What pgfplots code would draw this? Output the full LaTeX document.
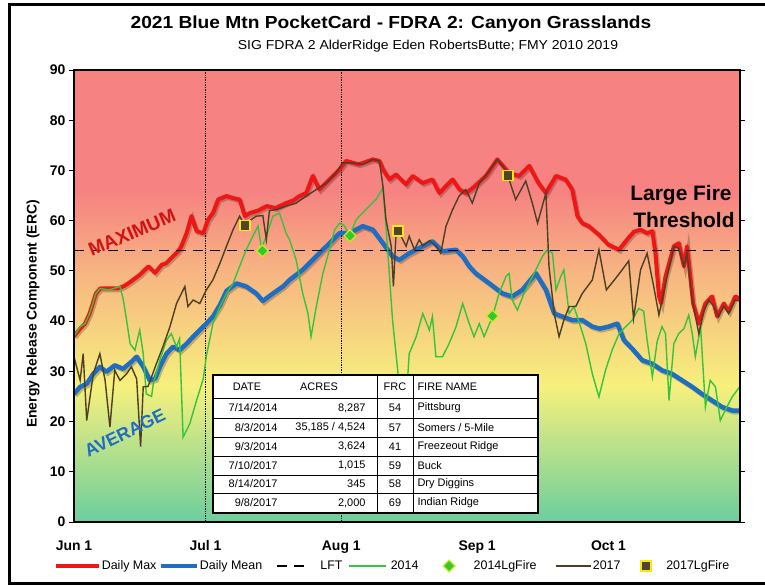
\documentclass[border=0pt]{standalone}
\usepackage{fontspec}
\setmainfont{Liberation Sans}
\usepackage{pgfplots}
\usepackage{pgfplotstable}
\pgfplotsset{compat=1.18}

\definecolor{maxred}{RGB}{240,22,22}
\definecolor{meanblue}{RGB}{30,110,195}
\definecolor{g14}{RGB}{55,195,60}
\definecolor{b17}{RGB}{78,62,36}
\definecolor{bgred}{RGB}{246,130,130}
\definecolor{bgor}{RGB}{247,180,130}
\definecolor{bgyel}{RGB}{246,240,125}
\definecolor{bggrn}{RGB}{108,206,158}
\definecolor{sqfill}{RGB}{80,70,35}
\definecolor{sqedge}{RGB}{245,230,20}
\definecolor{dmfill}{RGB}{50,200,50}
\definecolor{dmedge}{RGB}{205,235,30}

\pgfplotsset{
  limg/.style n args={3}{legend image code/.code={\draw[##1] (#1,0bp) -- (#2,0bp); \path[draw=none,fill=none] (0bp,0bp) -- (#3,0bp);}},
  mimg/.style n args={2}{legend image code/.code={\path[draw=none,fill=none] (0bp,0bp) -- (#2,0bp); \draw[mark repeat=1,mark phase=1,##1] plot coordinates {(#1,0bp)};}},
}

\pgfplotstableread{
x y
0 37
1.4 38.5
2.5 39.5
3.6 41.6
5 45.5
6 46.5
8 46.5
10 46.5
11.5 47
13 47.9
15 49.2
17 50.9
18.5 49.6
20 51.2
21 51.5
22.6 52.9
23.8 53.9
24.5 54.9
25.7 57.5
26.8 60.9
28 57.9
29.5 57.5
30.6 60.2
31.7 61.5
32.9 64.2
34.8 64.9
36.3 64.5
37.8 64.2
39 60.9
40.1 61.5
42 62
44 62.9
46 62.5
48.4 63.5
50 64
51.5 64.9
53 65.5
54.5 68.9
56 66.2
58.3 68.2
60.6 70.2
62.1 71.9
65 71.2
68.2 72.2
69.7 71.9
70.5 70.2
72 68.2
73.5 69.2
75.8 67.2
77.3 68.9
79.6 67.5
81.8 68.2
83.4 65.5
85 67
86.4 68.2
88 66.2
89.4 65.5
91 66.5
94 68.9
96.6 72.2
99.3 69.5
101.6 68.9
103.9 70.9
106 67.5
107.7 65.5
110 68.9
112.2 68.2
113.7 66.2
114.9 60.9
116 59.5
117.5 58.9
119.8 57.2
122 55.2
124.4 54.2
126.2 56.2
127.8 57.8
129.3 58.2
130.8 57.5
132 57.9
132.7 53.5
133.5 45
134 43.5
135 48.9
136.9 54.9
138 55.5
139.2 50.9
139.9 54.9
141.3 43.5
142.6 39.5
144.1 43.5
145.6 44.9
146.8 40.9
148.3 43.5
149.4 41.9
150.9 44.9
152 44.5
}\maxdata

\pgfplotstableread{
x y
0 25.5
1.4 26.9
2.9 27.5
4.4 29.5
5.9 30.9
7.4 29.9
9.3 31.2
11.2 30.5
13.1 31.9
14.3 32.9
15.8 30.9
17.3 28.2
18.5 28.5
19.6 30.9
21.1 33.5
22.6 34.9
24.1 34.2
25.7 35.5
27.2 36.9
28.7 38.2
30.2 39.5
31.7 40.9
33.3 43.2
34.8 46
37.1 47.5
39.3 46.9
41.6 45.5
43.1 44
45.4 45.5
47.7 46.9
49.2 48.2
52.2 50.2
55.3 52.9
58.3 55.5
60.6 57.5
62.9 57.5
65.9 58.9
68.2 58.2
70.5 55.5
72.7 52.9
74.3 52.2
76.5 53.5
79.6 54.9
81.8 55.9
84.1 53.9
87.2 54.2
88.7 52.9
90.2 50.9
91.7 49.5
94.8 47.5
97.8 45.5
100 44.9
102.3 46.2
105.4 49.5
107.7 46.2
109.6 41.5
111.5 40.9
113.7 40.2
116 40.2
118.3 38.9
120 38.5
122 38.9
124 39.5
125.5 36.2
127.4 34.5
129.7 32.2
132 31.5
134.2 30.2
136.5 29.5
138.8 28.2
141.1 26.9
143.3 25.5
145.6 24.2
147.9 22.9
150.2 22.2
152 22.2
}\meandata

\pgfplotstableread{
x y
0 37
1.4 38.9
2.5 39.5
3.6 41.6
5 45.5
6 46.5
8 46.2
10.5 46.9
11.2 44.5
12 40.2
12.8 35.5
13.9 34.2
15 38.2
15.8 33.5
16.5 25.5
17.7 25
18.1 27.5
19.6 32.2
21.1 36.2
22.2 37.5
23.4 34.9
24.1 36.5
24.9 16.9
26.4 19.5
27.9 24
29.5 28.5
30.2 33
31.7 39.5
33.3 42.9
34.8 45.5
36.3 47.5
37.8 50.9
39.3 54.2
40.8 56.9
42 58.9
42.8 54.5
43.9 56.9
45.4 60.9
46.9 61.5
48.4 57.5
49.2 56.2
50.7 52.2
52.2 45.5
53.4 41.5
54.1 36.9
55.3 42.9
56.8 49.5
58.3 54.2
59.5 58.2
60.6 59.5
61.7 59
62.9 56.9
64.4 60.2
66.6 62.2
68.9 64.2
70.5 66.5
71.2 58.9
72.7 40.2
73.9 30
74.8 20
75.8 24
76.5 33.5
78.1 36.9
79.6 41.5
81.1 38.2
81.8 40.9
82.6 32.9
84.1 32.9
85.6 35.5
87.2 38.9
88.7 43.5
90.2 39.5
91.3 36.9
92.5 39.5
93.6 36.9
95.5 40.9
97 45.5
98.6 48.9
99.3 49.5
100 44.2
101.2 42.2
102.7 45.5
105.4 50.2
106.9 52.9
108 54.2
109.2 53.5
110 46.2
111.1 48.9
111.8 50.2
113 41.5
114.1 42.9
115.6 38.9
116.8 35.5
118.3 29.5
119.8 24.9
121.3 30.2
122.8 34.2
124.4 37.5
125.9 38.9
127.4 40.2
128.9 42.5
130 42
130.8 36.2
132 28.9
133.1 36
134.2 38.9
135 37.5
135.8 24.2
136.9 35.5
138 37.5
139.2 38.5
140.3 41.2
141.1 37.5
141.8 32.9
143 38.9
144.1 22.9
145.2 28.2
146.4 26.9
147.5 20.2
149 22.9
150.2 24.9
152 27
}\yrA

\pgfplotstableread{
x y
0 32.9
1.4 28.2
2.1 33.5
2.9 20.2
4.4 29.5
5.9 33.5
7.1 28.2
8.2 18.9
9.3 30.2
10.5 28.2
12 29.5
13.1 30.9
14.3 28.5
15.2 15
15.8 26.9
16.9 27
18.8 31.5
20.3 34.9
21.9 38.9
23.4 43.5
25.3 46.9
26 42.9
27.2 44.2
28.7 43.5
30.2 46.2
31.7 48.2
33.3 51.5
34.8 54.9
36.3 58.2
37.8 60.9
39 59
40.1 60
41.6 60.9
43.1 61
43.9 56.2
44.6 62
46.2 62.2
48.4 62.9
50.7 63.5
53 64.9
55.3 66.2
57.6 67.5
59.8 69.5
61.3 71.5
63.6 71.5
65.9 71.2
68.2 72.2
69.7 71.9
70.5 66.9
71.2 60.2
72.4 54.9
72.9 46.9
73.5 57.5
74 58
75.8 54.9
76.5 56.9
77.7 54.2
78.8 56.2
79.6 55
81.1 56
82.6 55
83.7 53.5
84.9 58.9
86.4 62.2
87.9 64.9
89.4 66.2
90.9 63.5
92.5 67.5
94.4 69.5
96.6 72.2
98.2 70.5
99 69
100.8 64.2
103.1 67.9
104.6 63.5
105.8 59.5
107.7 65.5
108.4 50.9
109.6 41.5
110.7 36.9
111.8 40.2
113 42.9
114.5 42.9
116 45.5
118.3 48.2
119.8 54.2
121.5 46.2
123.6 48.5
125.1 50.2
126.6 52
127.7 40.5
129.3 50.2
130.8 53.5
132.3 46.9
133.5 41.2
135 47.5
136.9 54.9
138 54.5
139.2 50.9
139.9 53.5
141.1 44.2
142.6 37.5
143.8 42.2
144.9 44.2
146 42.9
147.1 40.9
148.3 43
149.4 41.5
150.9 44.2
152 44
}\yrB

\pgfplotstableread{
x y
43 54
63 57
95.5 41
}\fireA

\pgfplotstableread{
x y
39 59
74 58
99 69
}\fireB

\begin{document}
\begin{tikzpicture}[x=1bp,y=1bp]
\useasboundingbox (0,0) rectangle (765,587);
\draw[line width=3bp] (765,582.5) -- (9,582.5) -- (9,3.5) -- (765,3.5);

\node[font=\bfseries\fontsize{17.5}{20}\selectfont, xscale=1.1] at (391,563) {2021 Blue Mtn PocketCard - FDRA 2: Canyon Grasslands};
\node[font=\fontsize{13}{15}\selectfont, xscale=1.08] at (428,541) {SIG FDRA 2  AlderRidge Eden RobertsButte; FMY 2010 2019};
\node[rotate=90, font=\bfseries\fontsize{14}{16}\selectfont] at (33,273) {Energy Release Component (ERC)};

\begin{axis}[
  at={(74bp,65bp)}, anchor=south west,
  scale only axis, width=666bp, height=452bp,
  xmin=0, xmax=152, ymin=0, ymax=90,
  axis on top,
  axis line style={line width=1.8bp},
  ytick={0,10,...,90},
  tick align=outside,
  major tick length=5bp,
  y tick style={line width=0.8bp, black},
  xtick={0,30,61,92,122},
  xticklabels={Jun 1, Jul 1, Aug 1, Sep 1, Oct 1},
  x tick style={draw=none},
  xticklabel style={yshift=-10bp, font=\bfseries\fontsize{14}{16}\selectfont},
  yticklabel style={font=\bfseries\fontsize{14}{16}\selectfont},
  /pgf/number format/assume math mode=true,
  legend style={at={(-0.030,-0.0973)}, anchor=west, draw=none, fill=none,
    inner xsep=0pt, inner ysep=0pt, column sep=0pt,
    font=\fontsize{12.5}{14}\selectfont, nodes={inner sep=0.6bp}},
  legend columns=-1,
]
% background bands
\shade[bottom color=bggrn, top color=bgyel] (axis cs:0,0) rectangle (axis cs:152,27);
\shade[bottom color=bgyel, top color=bgor] (axis cs:0,27) rectangle (axis cs:152,50);
\shade[bottom color=bgor, top color=bgred] (axis cs:0,50) rectangle (axis cs:152,66);
\fill[bgred] (axis cs:0,66) rectangle (axis cs:152,90);
\draw[black, densely dotted, line width=0.7bp] (axis cs:30,0) -- (axis cs:30,90);
\draw[black, densely dotted, line width=0.7bp] (axis cs:61,0) -- (axis cs:61,90);

% shadows
\addplot[black, opacity=0.22, line width=4bp, xshift=1.5bp, yshift=-1.8bp, forget plot] table {\maxdata};
\addplot[black, opacity=0.22, line width=4.5bp, xshift=1.5bp, yshift=-1.8bp, forget plot] table {\meandata};

\addplot[maxred, line width=4bp, line join=round, limg={0bp}{43bp}{44bp}] table {\maxdata};
\addlegendentry{Daily Max}
\addplot[meanblue, line width=4.5bp, line join=round, limg={4bp}{40bp}{40bp}] table {\meandata};
\addlegendentry{Daily Mean}
\addplot[black, line width=1.1bp, dash pattern=on 10bp off 7bp, limg={14bp}{41bp}{55bp}] coordinates {(0,54) (152,54)};
\addlegendentry{\hspace*{2bp}LFT}
\addplot[g14, line width=1.4bp, limg={6bp}{43bp}{47bp}] table {\yrA};
\addlegendentry{2014\hspace*{7bp}}
\addplot[only marks, mark=square*, mark size=4.2bp, mark options={rotate=45, fill=dmfill, draw=dmedge, line width=1.2bp}, mimg={23bp}{47bp}] table {\fireA};
\addlegendentry{2014LgFire\hspace*{16bp}}
\addplot[b17, line width=1.4bp, limg={3bp}{38bp}{39bp}] table {\yrB};
\addlegendentry{2017\hspace*{3bp}}
\addplot[only marks, mark=square*, mark size=5bp, mark options={fill=sqfill, draw=sqedge, line width=1.6bp}, mimg={22bp}{43bp}] table {\fireB};
\addlegendentry{\hspace*{-1.5bp}2017LgFire}
\end{axis}

% in-plot labels
\node[rotate=23, font=\bfseries\fontsize{19}{22}\selectfont, text=maxred!88!black] at (132,354) {MAXIMUM};
\node[rotate=26, font=\bfseries\fontsize{18}{21}\selectfont, text=meanblue] at (125,154) {AVERAGE};
\node[font=\bfseries\fontsize{21}{24}\selectfont] at (681,392) {Large Fire};
\node[font=\bfseries\fontsize{21}{24}\selectfont] at (684,367) {Threshold};

% fire table
\begin{scope}[font=\fontsize{11}{13}\selectfont]
\fill[white] (213,74) rectangle (538,212);
\foreach \yy in {189,169,150,131,112,94} {\draw[line width=0.8bp] (213,\yy) -- (538,\yy);}
\draw[line width=0.8bp] (377,74) -- (377,212);
\draw[line width=0.8bp] (413,74) -- (413,212);
\draw[line width=1.4bp] (213,74) rectangle (538,212);
\node at (247,200.5) {DATE};
\node at (319,200.5) {ACRES};
\node at (395,200.5) {FRC};
\node[anchor=west] at (414,200.5) {FIRE NAME};
\node[anchor=east] at (281,179) {7/14/2014};
\node[anchor=east] at (369,179) {8,287};
\node at (395,179) {54};
\node[anchor=west] at (414,179) {Pittsburg};
\node[anchor=east] at (281,159.5) {8/3/2014};
\node[anchor=east] at (369,159.5) {35,185 / 4,524};
\node at (395,159.5) {57};
\node[anchor=west] at (414,159.5) {Somers / 5-Mile};
\node[anchor=east] at (281,140.5) {9/3/2014};
\node[anchor=east] at (369,140.5) {3,624};
\node at (395,140.5) {41};
\node[anchor=west] at (414,140.5) {Freezeout Ridge};
\node[anchor=east] at (281,121.5) {7/10/2017};
\node[anchor=east] at (369,121.5) {1,015};
\node at (395,121.5) {59};
\node[anchor=west] at (414,121.5) {Buck};
\node[anchor=east] at (281,103) {8/14/2017};
\node[anchor=east] at (369,103) {345};
\node at (395,103) {58};
\node[anchor=west] at (414,103) {Dry Diggins};
\node[anchor=east] at (281,84) {9/8/2017};
\node[anchor=east] at (369,84) {2,000};
\node at (395,84) {69};
\node[anchor=west] at (414,84) {Indian Ridge};
\end{scope}
\end{tikzpicture}
\end{document}
